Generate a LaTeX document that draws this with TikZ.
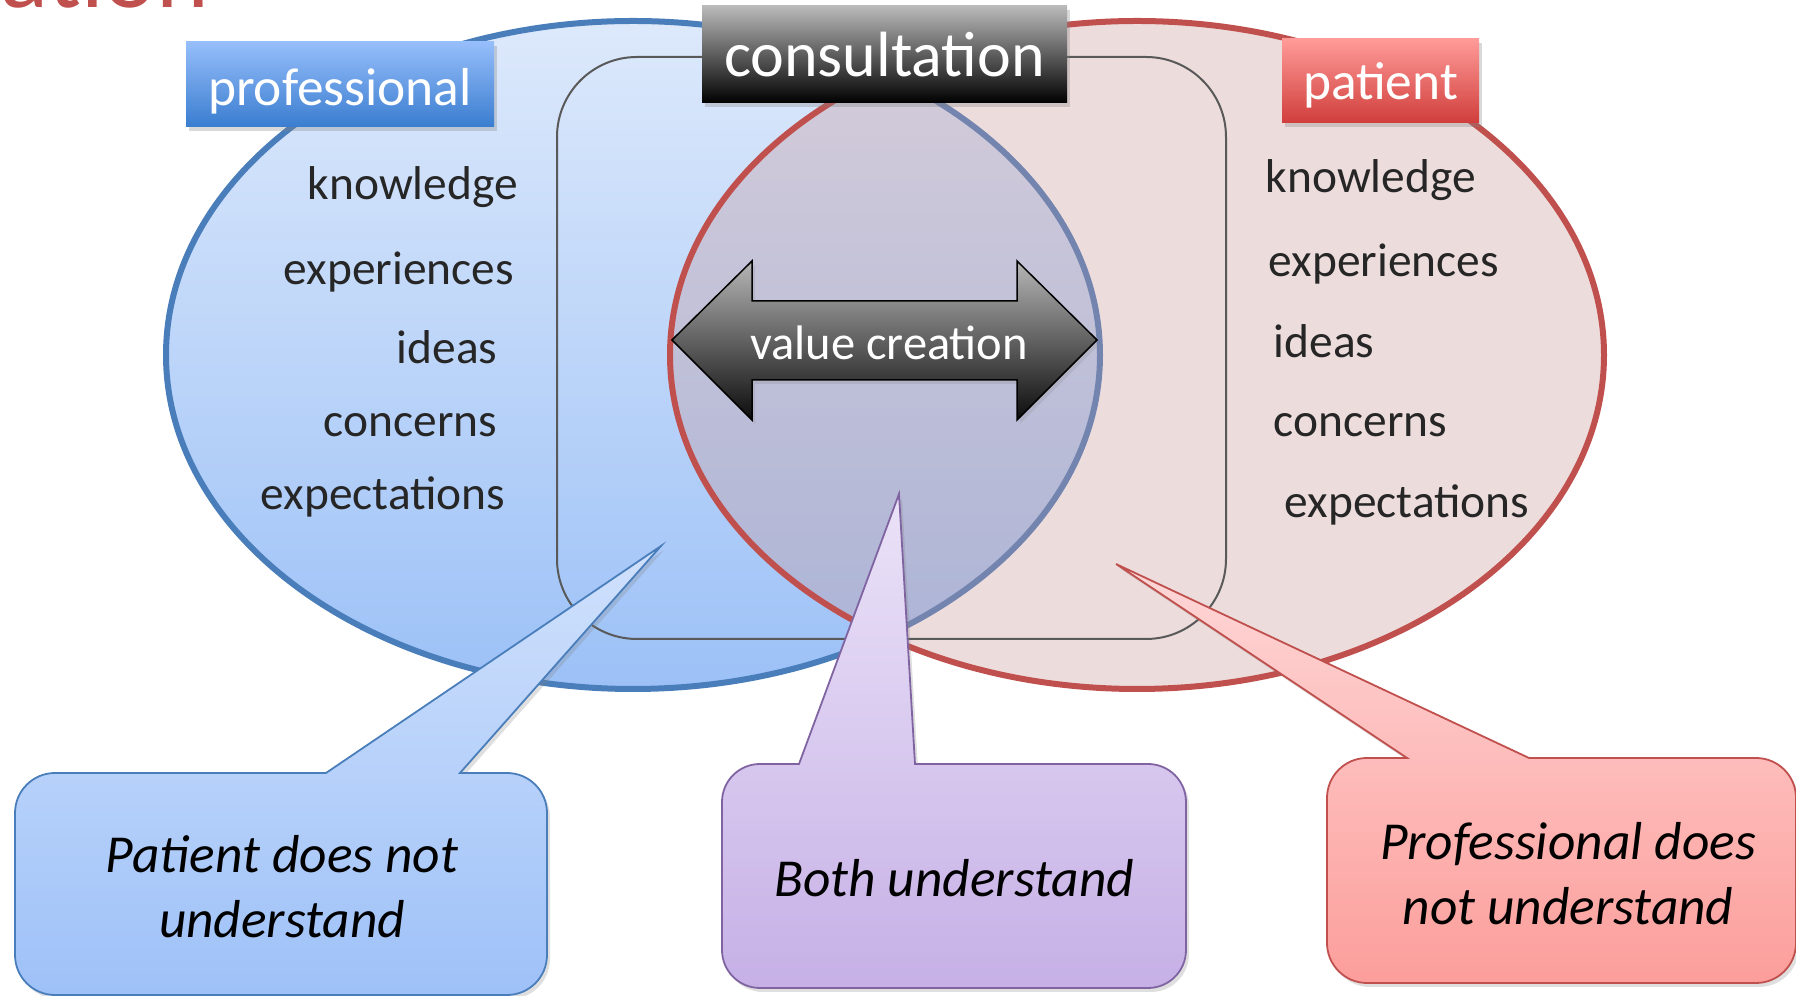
\documentclass[tikz,border=0pt]{standalone}
\usepackage{fontspec}
\setmainfont{Carlito}
\usetikzlibrary{shadows}

\definecolor{blueedge}{RGB}{74,126,187}
\definecolor{bluetop}{RGB}{221,233,251}
\definecolor{bluebottom}{RGB}{156,193,247}
\definecolor{rededge}{RGB}{192,80,77}
\definecolor{redfill}{RGB}{200,150,150}
\definecolor{rectgray}{RGB}{89,89,89}
\definecolor{wordgray}{RGB}{38,38,38}
\definecolor{proftop}{RGB}{150,190,250}
\definecolor{profbottom}{RGB}{58,125,208}
\definecolor{pattop}{RGB}{255,155,152}
\definecolor{patbottom}{RGB}{208,62,60}
\definecolor{constop}{RGB}{186,186,186}
\definecolor{consbottom}{RGB}{0,0,0}
\definecolor{arrowtop}{RGB}{182,182,182}
\definecolor{arrowbottom}{RGB}{12,12,12}
\definecolor{bbluetop}{RGB}{208,225,252}
\definecolor{bbluebottom}{RGB}{158,193,248}
\definecolor{purpleedge}{RGB}{128,100,162}
\definecolor{purpletop}{RGB}{235,227,248}
\definecolor{purplebottom}{RGB}{198,176,230}
\definecolor{bredtop}{RGB}{254,215,215}
\definecolor{bredbottom}{RGB}{252,158,155}

\begin{document}
\begin{tikzpicture}[x=0.1mm, y=-0.1mm]
    \tikzset{listword/.style={anchor=base west, inner sep=0, text=wordgray, font=\fontsize{13.5}{16}\selectfont}}
    \tikzset{header/.style={inner sep=0, text=white, text depth=0pt, drop shadow={opacity=0.3, shadow xshift=0.3mm, shadow yshift=-0.4mm}}}
    \tikzset{bubble/.style={line width=0.18mm, drop shadow={opacity=0.25, shadow xshift=0.3mm, shadow yshift=-0.4mm}}}
    \tikzset{bubbletext/.style={align=center, inner sep=0, font=\fontsize{15.2}{18.5}\selectfont\itshape}}
    \useasboundingbox (0, 0) rectangle (1796, 996);
    \clip (0, 0) rectangle (1796, 996);

    % title, cut off by the top edge
    \node[anchor=base east, inner sep=0, text=rededge, font=\fontsize{28.5}{32}\selectfont] (title) at (210, 8) {ation};

    % the two sides
    \draw[blueedge, line width=0.6mm, top color=bluetop, bottom color=bluebottom] (633, 355) ellipse[x radius=467, y radius=334];
    \draw[rededge, line width=0.6mm, fill=redfill, fill opacity=0.33] (1137, 355) ellipse[x radius=467, y radius=334];
    \draw[rectgray, line width=0.2mm, rounded corners=8mm] (557, 57) rectangle (1226, 639);

    \node[header, top color=proftop, bottom color=profbottom, minimum width=30.8mm, minimum height=8.5mm, text height=4.3mm, font=\fontsize{15.2}{18}\selectfont] (professional) at (340, 84.5) {professional};
    \node[header, top color=pattop, bottom color=patbottom, minimum width=19.7mm, minimum height=8.4mm, text height=3.7mm, font=\fontsize{15.2}{18}\selectfont] (patient) at (1380.5, 81) {patient};
    \node[header, top color=constop, bottom color=consbottom, minimum width=36.5mm, minimum height=9.7mm, text height=4.5mm, font=\fontsize{18.2}{21}\selectfont] (consultation) at (884.5, 54.5) {consultation};

    \foreach \word/\x/\y in {knowledge/307/200, experiences/283/285, ideas/396/364, concerns/323/437, expectations/260/510} {
        \node[listword] (prof-\word) at (\x, \y) {\word};
    }
    \foreach \word/\x/\y in {knowledge/1265/193, experiences/1268/277, ideas/1273/358, concerns/1273/437, expectations/1284/518} {
        \node[listword] (pat-\word) at (\x, \y) {\word};
    }

    % value creation arrow
    \path[draw=black, line width=0.15mm, top color=arrowtop, bottom color=arrowbottom, drop shadow={opacity=0.2, shadow xshift=0.3mm, shadow yshift=-0.4mm}]
        (672, 340) -- (752, 261) -- (752, 301) -- (1017, 301) -- (1017, 261) -- (1097, 340)
        -- (1017, 420) -- (1017, 380) -- (752, 380) -- (752, 420) -- cycle;
    \node[anchor=base, inner sep=0, text=white, font=\fontsize{13.8}{16}\selectfont] (value) at (889, 360) {value creation};

    % callouts
    \coordinate (tipL) at (661, 546);
    \coordinate (tipM) at (899, 494);
    \coordinate (tipR) at (1116, 564);
    \path[bubble, draw=blueedge, top color=bbluetop, bottom color=bbluebottom]
        (460, 773) [rounded corners=4mm] -- (547, 773) -- (547, 995) -- (15, 995) -- (15, 773) [sharp corners] -- (326, 773) -- (tipL) -- cycle;
    \path[bubble, draw=purpleedge, top color=purpletop, bottom color=purplebottom]
        (915, 764) [rounded corners=3.8mm] -- (1186, 764) -- (1186, 988) -- (722, 988) -- (722, 764) [sharp corners] -- (799, 764) -- (tipM) -- cycle;
    \path[bubble, draw=rededge, top color=bredtop, bottom color=bredbottom]
        (1529, 758) [rounded corners=4mm] -- (1796, 758) -- (1796, 983) -- (1327, 983) -- (1327, 758) [sharp corners] -- (1407, 758) -- (tipR) -- cycle;

    \node[bubbletext] (left-text) at (282, 887) {Patient does not\\understand};
    \node[bubbletext, anchor=base] (mid-text) at (954, 897) {Both understand};
    \node[bubbletext] (right-text) at (1568, 874) {Professional does\\not understand};
\end{tikzpicture}
\end{document}
